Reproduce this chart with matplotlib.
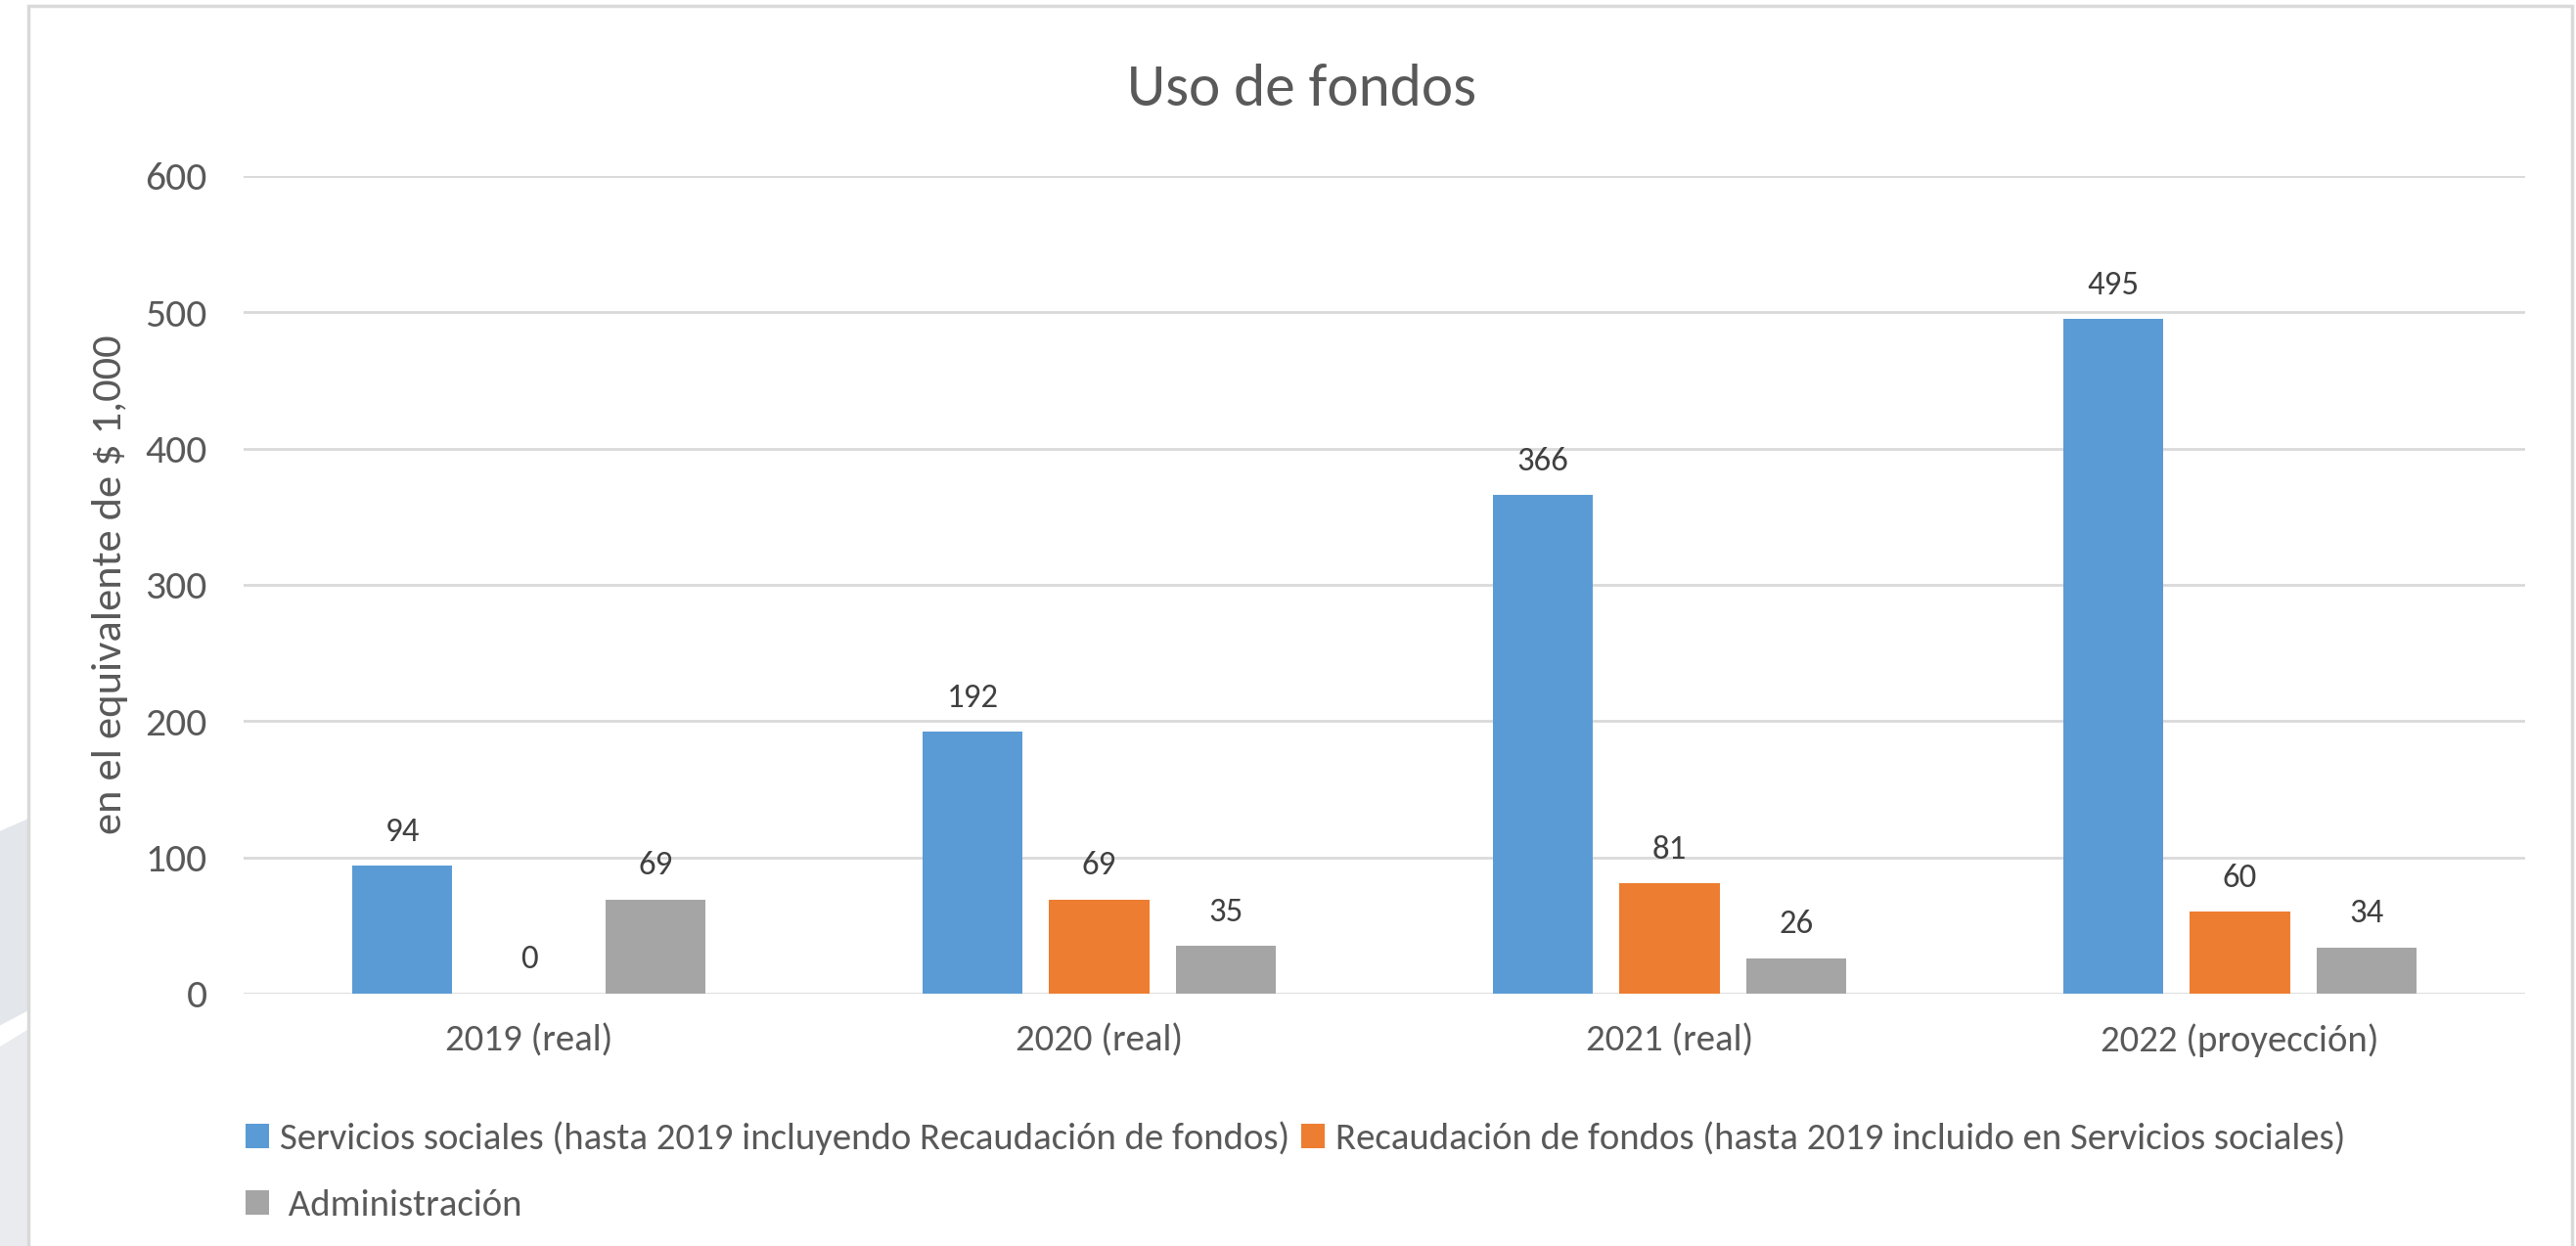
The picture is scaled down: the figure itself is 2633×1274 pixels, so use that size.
import matplotlib as mpl
mpl.use('Agg')
import matplotlib.pyplot as plt
import matplotlib.patches as mpatches
import numpy as np

plt.rcParams['font.family'] = ['Carlito', 'Lato', 'DejaVu Sans']

categories = ['2019 (real)', '2020 (real)', '2021 (real)', '2022 (proyección)']
servicios = [94, 192, 366, 495]
recaudacion = [0, 69, 81, 60]
administracion = [69, 35, 26, 34]
series_names = ['Servicios sociales (hasta 2019 incluyendo Recaudación de fondos)',
                'Recaudación de fondos (hasta 2019 incluido en Servicios sociales)',
                ' Administración']
colors = ['#5b9bd5', '#ed7d31', '#a5a5a5']
yticks = [0, 100, 200, 300, 400, 500, 600]

W, H = 2633, 1274
fig = plt.figure(figsize=(W/100, H/100), dpi=100)

# light background shapes at lower left, outside the chart frame
bg = [([(0, 0.333), (0.011, 0.343), (0.011, 0.189), (0, 0.177)], '#e3e6ea'),
      ([(0, 0.160), (0.011, 0.174), (0.011, 0.0), (0, 0.0)], '#e9ebee')]
for pts, c in bg:
    fig.patches.append(mpatches.Polygon(pts, closed=True, transform=fig.transFigure,
                                        facecolor=c, edgecolor='none', zorder=0))

# chart frame
fig.patches.append(mpatches.Rectangle((29/W, -0.05), (2629-29)/W, 1.05 - 6/H,
                                      transform=fig.transFigure, facecolor='white',
                                      edgecolor='#d9d9d9', linewidth=2.5, zorder=1))

ax = fig.add_axes([249/W, 1 - 1016/H, (2581-249)/W, (1016-180)/H])
ax.set_zorder(2)
ax.patch.set_alpha(0)

x = np.arange(len(categories))
step = 0.222
width = 0.176
data = [servicios, recaudacion, administracion]
for i, vals in enumerate(data):
    pos = x + (i - 1) * step
    ax.bar(pos, vals, width, color=colors[i], label=series_names[i], zorder=3)
    for xp, v in zip(pos, vals):
        ax.text(xp, v + 14, str(v), ha='center', va='bottom', fontsize=25, color='#404040')

ax.set_xlim(-0.5, 3.5)
ax.set_ylim(0, 600)
ax.set_yticks(yticks)
ax.set_xticks(x)
ax.set_xticklabels(categories)
ax.tick_params(axis='x', length=0, labelsize=28, colors='#595959', pad=22)
ax.tick_params(axis='y', length=0, labelsize=30, colors='#595959', pad=27)
ax.grid(axis='y', color='#d9d9d9', linewidth=2, zorder=0)
ax.set_axisbelow(True)
for s in ax.spines.values():
    s.set_visible(False)

ax.set_ylabel('en el equivalente de $ 1,000', fontsize=32, color='#595959', labelpad=12)
fig.text(1330/W, 1 - 92/H, 'Uso de fondos', ha='center', va='center', fontsize=44, color='#595959')

handles, labels = ax.get_legend_handles_labels()
order = [0, 2, 1]
ax.legend([handles[k] for k in order], [labels[k] for k in order], ncol=2,
          loc='upper left', bbox_to_anchor=(232/W, 1 - 1127/H), bbox_transform=fig.transFigure,
          frameon=False, fontsize=28, labelcolor='#595959', handlelength=0.6, handleheight=0.6,
          handletextpad=0.3, columnspacing=0.3, labelspacing=0.9, borderpad=0)

fig.savefig('out.png', dpi=100)
